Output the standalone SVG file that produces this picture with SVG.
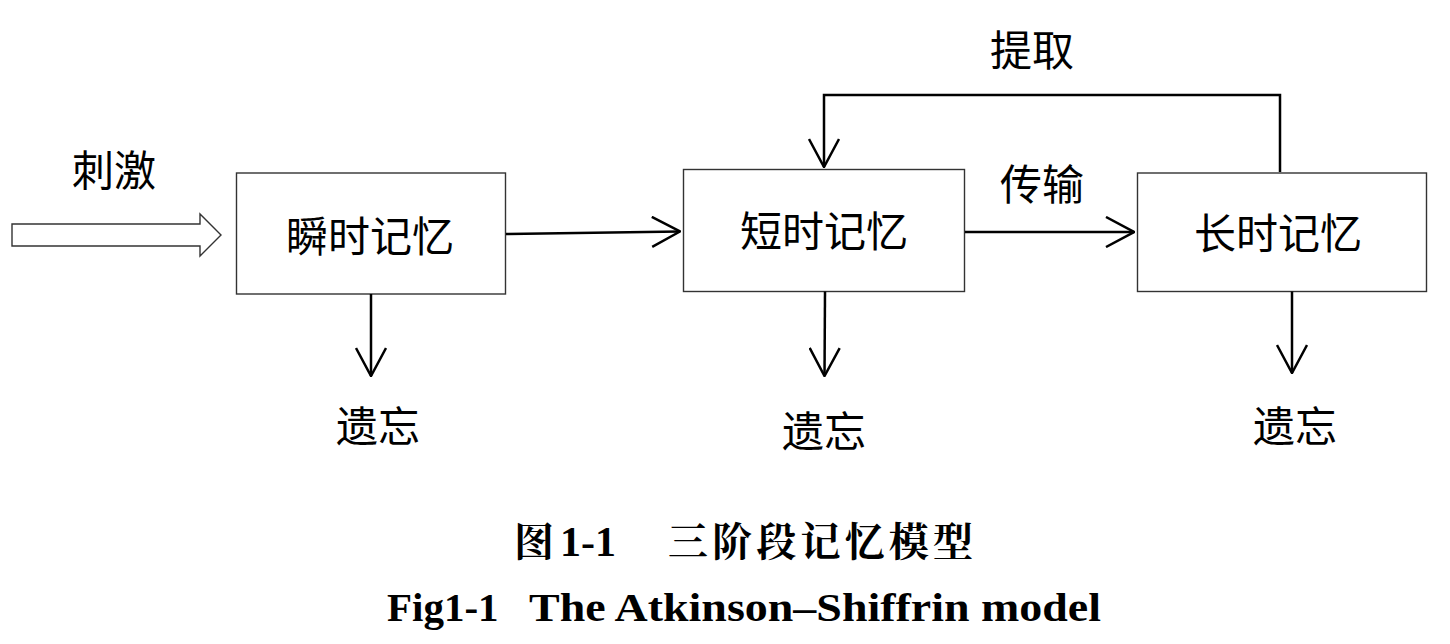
<svg xmlns="http://www.w3.org/2000/svg" width="1450" height="644" viewBox="0 0 1450 644">
<style>
.box{fill:#fff;stroke:#333;stroke-width:1.4}
.lbl{font-family:"Noto Sans CJK SC","Noto Sans CJK JP",sans-serif;font-size:42px;fill:#000;text-anchor:middle}
.con{fill:none;stroke:#000;stroke-width:2.5}
.cap{font-family:"Liberation Serif","Noto Serif CJK SC","Noto Sans CJK SC",serif;font-weight:bold;fill:#000}
</style>
<defs>
<marker id="arr" viewBox="0 0 30 32" refX="29" refY="16" markerWidth="30" markerHeight="32" markerUnits="userSpaceOnUse" orient="auto">
<path d="M1,1 L29,16 L1,31" fill="none" stroke="#000" stroke-width="2.5"/>
</marker>
</defs>
<rect width="1450" height="644" fill="#fff"/>
<g id="stimulus">
<path d="M12,224 L200,224 L200,214 L221,235 L200,256 L200,246 L12,246 Z" fill="#fff" stroke="#333" stroke-width="1.4"/>
<text class="lbl" x="114" y="186" font-size="40">刺激</text>
</g>
<g id="sensory">
<rect class="box" x="236.5" y="173" width="269" height="121"/>
<text class="lbl" x="370" y="252">瞬时记忆</text>
</g>
<g id="short">
<rect class="box" x="683.5" y="169.5" width="281" height="122"/>
<text class="lbl" x="824" y="247">短时记忆</text>
</g>
<g id="long">
<rect class="box" x="1137.5" y="173" width="289" height="118.5"/>
<text class="lbl" x="1278" y="249">长时记忆</text>
</g>
<g id="connectors">
<path class="con" d="M506,234 L680,231.5" marker-end="url(#arr)"/>
<path class="con" d="M965,232 L1134,232" marker-end="url(#arr)"/>
<path class="con" d="M1280,172 L1280,95 L824,95 L824,167" marker-end="url(#arr)"/>
<path class="con" d="M371,294 L371,376" marker-end="url(#arr)"/>
<path class="con" d="M825,291.5 L824.5,376" marker-end="url(#arr)"/>
<path class="con" d="M1292,291.5 L1292,373" marker-end="url(#arr)"/>
</g>
<g id="labels">
<text class="lbl" x="1042" y="200" font-size="40">传输</text>
<text class="lbl" x="1032" y="66" font-size="40">提取</text>
<text class="lbl" x="378" y="442">遗忘</text>
<text class="lbl" x="824" y="447">遗忘</text>
<text class="lbl" x="1295" y="442">遗忘</text>
</g>
<g id="caption">
<text class="cap" x="514" y="556" font-size="40"><tspan font-family="'Noto Serif CJK SC','Noto Sans CJK SC',sans-serif">图</tspan><tspan x="560" font-size="42">1-1</tspan><tspan x="668" font-family="'Noto Serif CJK SC','Noto Sans CJK SC',sans-serif" textLength="305">三阶段记忆模型</tspan></text>
<text class="cap" x="387" y="621" font-size="41">Fig1-1</text>
<text class="cap" x="529" y="621" font-size="40" textLength="572" lengthAdjust="spacingAndGlyphs">The Atkinson–Shiffrin model</text>
</g>
</svg>
